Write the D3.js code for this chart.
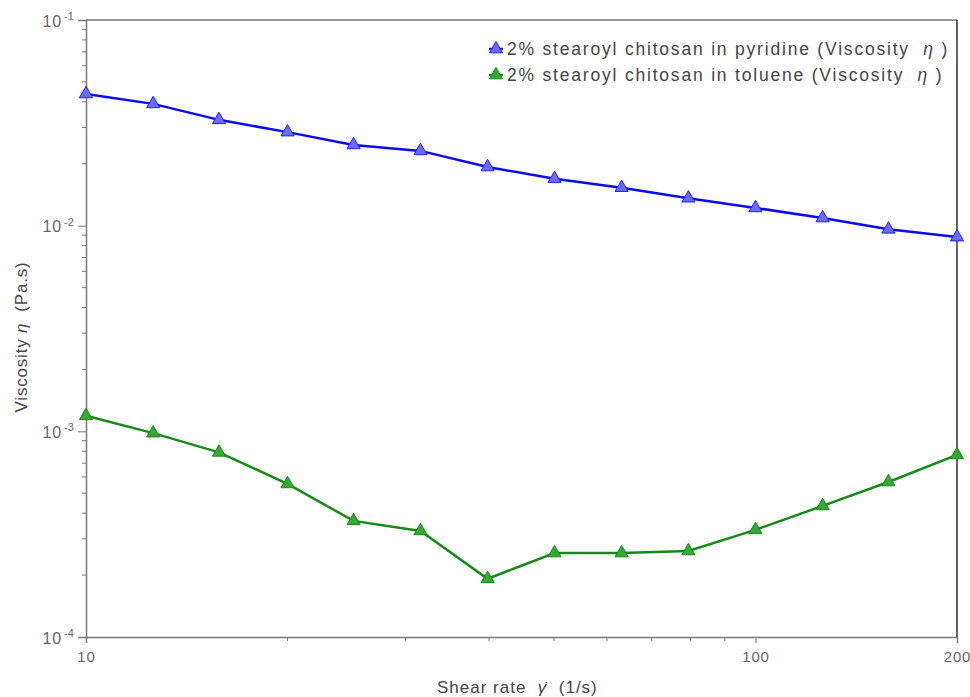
<!DOCTYPE html>
<meta charset="utf-8">
<style>
body { margin: 0; background: #fff; font-family: 'Liberation Sans', Arial, sans-serif; }
text { white-space: pre; }
</style>
<body>
<script src="https://cdn.jsdelivr.net/npm/d3@7"></script>
<script>
// shear rate (1/s)
var shearRate = [10, 12.6, 15.8, 20, 25.1, 31.6, 39.8, 50.1, 63.1, 79.4, 100, 126, 158, 200];
// viscosity (Pa.s)
var pyridine = [0.0437, 0.0391, 0.0327, 0.0285, 0.0247, 0.0231, 0.0193, 0.0169, 0.0153, 0.0136, 0.0122, 0.0109, 0.0096, 0.0088];
var toluene = [0.00119, 0.00098, 0.00079, 0.000555, 0.000367, 0.000328, 0.000192, 0.000256, 0.000256, 0.000262, 0.000332, 0.000434, 0.000567, 0.000768];
var seriesNames = ['2% stearoyl chitosan in pyridine (Viscosity  ', '2% stearoyl chitosan in toluene (Viscosity  '];
var yTicks = [1e-4, 1e-3, 1e-2, 1e-1];
var xTicks = [10, 100, 200];

var W = 970, H = 697;
var m = {left: 86, right: 13, top: 20, bottom: 60};
var font = 'Liberation Sans, Arial, sans-serif';

var svg = d3.select('body').append('svg')
  .attr('width', W)
  .attr('height', H);

var x = d3.scaleLog().domain([10, 200]).range([m.left, W - m.right]);
var y = d3.scaleLog().domain([1e-4, 1e-1]).range([H - m.bottom, m.top]);

// frame
svg.append('line').attr('x1', m.left).attr('x2', W - m.right).attr('y1', m.top).attr('y2', m.top)
  .attr('stroke', '#777').attr('stroke-width', 1.5);
svg.append('line').attr('x1', W - m.right).attr('x2', W - m.right).attr('y1', m.top).attr('y2', H - m.bottom)
  .attr('stroke', '#333').attr('stroke-width', 1.5);

// minor ticks
var yMinor = [];
[1e-4, 1e-3, 1e-2].forEach(function(d) {
  for (var k = 2; k < 10; k++) yMinor.push(d * k);
});
var xMinor = [20, 30, 40, 50, 60, 70, 80, 90];

svg.append('g').selectAll('line').data(yMinor).enter().append('line')
  .attr('x1', m.left - 4).attr('x2', m.left)
  .attr('y1', function(d) { return y(d); }).attr('y2', function(d) { return y(d); })
  .attr('stroke', '#777').attr('stroke-width', 1);
svg.append('g').selectAll('line').data(xMinor).enter().append('line')
  .attr('y1', H - m.bottom).attr('y2', H - m.bottom + 4)
  .attr('x1', function(d) { return x(d); }).attr('x2', function(d) { return x(d); })
  .attr('stroke', '#777').attr('stroke-width', 1);

// axes
var xAxis = svg.append('g')
  .attr('transform', 'translate(0,' + (H - m.bottom) + ')')
  .call(d3.axisBottom(x).tickValues(xTicks).tickFormat(d3.format('d')).tickSize(6).tickPadding(8));
xAxis.selectAll('text')
  .attr('font-size', 15).attr('font-family', font).attr('fill', '#666').attr('letter-spacing', 0.8);

var yAxis = svg.append('g')
  .attr('transform', 'translate(' + m.left + ',0)')
  .call(d3.axisLeft(y).tickValues(yTicks).tickFormat('').tickSize(8));
yAxis.selectAll('.tick').append('text')
  .attr('x', -24).attr('dy', '0.38em').attr('text-anchor', 'end')
  .attr('font-size', 16).attr('font-family', font).attr('fill', '#666').attr('letter-spacing', 0.8)
  .text('10');
yAxis.selectAll('.tick').append('text')
  .attr('x', -22).attr('dy', '-0.05em').attr('text-anchor', 'start')
  .attr('font-size', 11).attr('font-family', font).attr('fill', '#666')
  .text(function(d) { return Math.round(Math.log10(d)); });

svg.selectAll('.domain').attr('stroke', '#777').attr('stroke-width', 1.5);
svg.selectAll('.tick line').attr('stroke', '#777');

// axis titles
var xt = svg.append('text')
  .attr('x', 437).attr('y', 693)
  .attr('font-size', 17).attr('fill', '#444').attr('letter-spacing', 1.0);
xt.append('tspan').text('Shear rate  ');
xt.append('tspan').attr('font-style', 'italic').text('\u03b3\u0307');
xt.append('tspan').text('  (1/s)');

var yt = svg.append('text')
  .attr('transform', 'translate(27,337) rotate(-90)')
  .attr('text-anchor', 'middle')
  .attr('font-size', 17).attr('fill', '#444').attr('letter-spacing', 0.8);
yt.append('tspan').text('Viscosity ');
yt.append('tspan').attr('font-style', 'italic').text('\u03b7');
yt.append('tspan').text('  (Pa.s)');

// series
var series = [
  {name: seriesNames[0], values: pyridine, line: '#0a0af0', fill: '#6b6bff', stroke: '#2020ee'},
  {name: seriesNames[1], values: toluene, line: '#168a16', fill: '#35a835', stroke: '#168a16'}
];

var lineGen = d3.line()
  .x(function(d) { return x(d[0]); })
  .y(function(d) { return y(d[1]); });
var tri = d3.symbol().type(d3.symbolTriangle).size(75);

series.forEach(function(s) {
  var pts = shearRate.map(function(r, i) { return [r, s.values[i]]; });
  svg.append('path').datum(pts)
    .attr('d', lineGen)
    .attr('fill', 'none')
    .attr('stroke', s.line)
    .attr('stroke-width', 2.5);
  svg.append('g').selectAll('path').data(pts).enter().append('path')
    .attr('d', tri)
    .attr('transform', function(d) { return 'translate(' + x(d[0]) + ',' + y(d[1]) + ')'; })
    .attr('fill', s.fill)
    .attr('stroke', s.stroke)
    .attr('stroke-width', 1);
});

// legend
var legend = svg.append('g').attr('transform', 'translate(496,49)');
series.forEach(function(s, i) {
  var g = legend.append('g').attr('transform', 'translate(0,' + (i * 26) + ')');
  g.append('line').attr('x1', -7).attr('x2', 7).attr('stroke', s.line).attr('stroke-width', 2.5);
  g.append('path').attr('d', tri).attr('fill', s.fill).attr('stroke', s.stroke).attr('stroke-width', 1);
  var t = g.append('text').attr('x', 11).attr('dy', '0.35em')
    .attr('font-size', 17.5).attr('fill', '#444').attr('letter-spacing', 1.8);
  t.append('tspan').text(s.name);
  t.append('tspan').attr('font-style', 'italic').text('\u03b7');
  t.append('tspan').text(' )');
});
</script>
</body>
